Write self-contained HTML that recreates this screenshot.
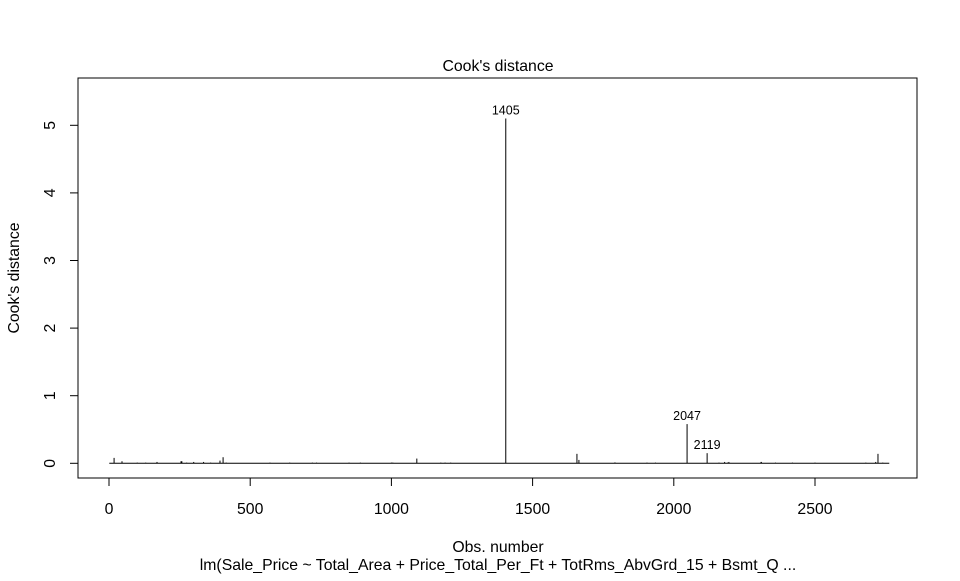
<!DOCTYPE html>
<html><head><meta charset="utf-8"><style>
body{margin:0;background:#fff}
svg text{font-family:"Liberation Sans",Arial,sans-serif;fill:#000}
</style></head><body>
<svg id="chart" width="960" height="576" viewBox="0 0 960 576">
<rect width="960" height="576" fill="#fff"/>
<text x="498" y="71" font-size="15.8" text-anchor="middle">Cook's distance</text>
<rect x="78" y="78" width="839" height="400" fill="none" stroke="#000" stroke-width="1"/>
<g id="yaxis"></g>
<g id="xaxis"></g>
<g id="marks"></g>
<text transform="translate(19,278) rotate(-90)" font-size="15.8" text-anchor="middle">Cook's distance</text>
<text x="498" y="552" font-size="15.8" text-anchor="middle">Obs. number</text>
<text x="498" y="570" font-size="15.8" text-anchor="middle">lm(Sale_Price ~ Total_Area + Price_Total_Per_Ft + TotRms_AbvGrd_15 + Bsmt_Q ...</text>
</svg>
<script>
const nObs = 2763;
const yTicks = [0, 1, 2, 3, 4, 5];
const xTicks = [0, 500, 1000, 1500, 2000, 2500];
const obsIds = [18, 46, 100, 130, 170, 255, 258, 275, 300, 335, 360, 393, 404, 415, 570, 640, 720, 735, 850, 890, 1000, 1005, 1090, 1175, 1190, 1210, 1405, 1657, 1664, 1790, 1793, 1905, 1935, 2047, 2118, 2160, 2180, 2190, 2195, 2309, 2310, 2360, 2420, 2500, 2680, 2715, 2723, 2740];
const cookD = [0.08, 0.03, 0.01, 0.01, 0.02, 0.03, 0.03, 0.01, 0.02, 0.02, 0.01, 0.04, 0.09, 0.01, 0.01, 0.01, 0.01, 0.01, 0.01, 0.01, 0.01, 0.01, 0.07, 0.01, 0.01, 0.01, 5.10, 0.14, 0.05, 0.01, 0.01, 0.01, 0.01, 0.58, 0.15, 0.01, 0.02, 0.01, 0.02, 0.02, 0.02, 0.01, 0.01, 0.01, 0.01, 0.02, 0.14, 0.01];
const labelled = [1405, 2047, 2119];
const labelIdx = [26, 33, 34];

const NS = "http://www.w3.org/2000/svg";
const X = v => 109 + v * (815 - 109) / 2500;
const Y = v => 463.3 - v * (463.3 - 125.3) / 5;
function mk(parent, tag, attrs, txt) {
  const e = document.createElementNS(NS, tag);
  for (const k in attrs) e.setAttribute(k, attrs[k]);
  if (txt !== undefined) e.textContent = txt;
  parent.appendChild(e);
  return e;
}
const ya = document.getElementById('yaxis');
const xa = document.getElementById('xaxis');
const mg = document.getElementById('marks');
mk(ya, 'line', {x1: 78, x2: 78, y1: Y(0), y2: Y(5), stroke: '#000'});
yTicks.forEach(t => {
  const l = mk(ya, 'line', {x1: 70, x2: 78, y1: Y(t), y2: Y(t), stroke: '#000'});
  
  
  const tx = mk(ya, 'text', {transform: `translate(55,${Y(t)}) rotate(-90)`, 'font-size': 15.8, 'text-anchor': 'middle'}, String(t));
  
  
});
mk(xa, 'line', {x1: X(0), x2: X(2500), y1: 478, y2: 478, stroke: '#000'});
xTicks.forEach(t => {
  const l = mk(xa, 'line', {x1: X(t), x2: X(t), y1: 478, y2: 486, stroke: '#000'});
  
  
  const tx = mk(xa, 'text', {x: X(t), y: 514, 'font-size': 15.8, 'text-anchor': 'middle'}, String(t));
  
  
});
const base = mk(mg, 'line', {x1: X(1), x2: X(nObs), y1: Y(0), y2: Y(0), stroke: '#000', 'stroke-width': 1});


obsIds.forEach((o, i) => {
  const l = mk(mg, 'line', {x1: X(o), x2: X(o), y1: Y(0), y2: Y(cookD[i]), stroke: '#000', 'stroke-width': 1});
  
  
});
labelIdx.forEach((i, k) => {
  const t = mk(mg, 'text', {x: X(obsIds[i]), y: Y(cookD[i]) - 4, 'font-size': 12.5, 'text-anchor': 'middle'}, String(labelled[k]));
  
  
});
</script>
</body></html>
